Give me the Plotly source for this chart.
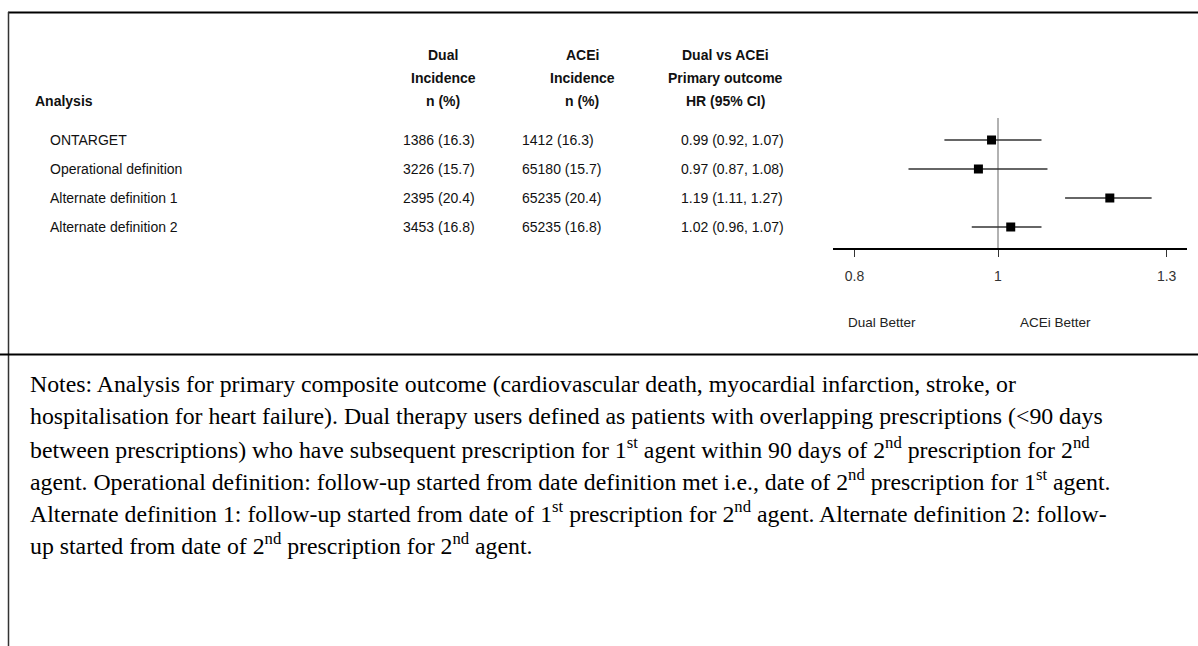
import math
import plotly.graph_objects as go

W, H = 1198, 646

analyses = ["ONTARGET", "Operational definition", "Alternate definition 1", "Alternate definition 2"]
dual_inc = ["1386 (16.3)", "3226 (15.7)", "2395 (20.4)", "3453 (16.8)"]
acei_inc = ["1412 (16.3)", "65180 (15.7)", "65235 (20.4)", "65235 (16.8)"]
hr = [0.99, 0.97, 1.19, 1.02]
lo = [0.92, 0.87, 1.11, 0.96]
hi = [1.07, 1.08, 1.27, 1.07]
hr_text = ["0.99 (0.92, 1.07)", "0.97 (0.87, 1.08)", "1.19 (1.11, 1.27)", "1.02 (0.96, 1.07)"]
tick_vals = [0.8, 1, 1.3]
tick_text = ["0.8", "1", "1.3"]
headers_dual = ["Dual", "Incidence", "n (%)"]
headers_acei = ["ACEi", "Incidence", "n (%)"]
headers_hr = ["Dual vs ACEi", "Primary outcome", "HR (95% CI)"]
notes_lines = [
    "Notes: Analysis for primary composite outcome (cardiovascular death, myocardial infarction, stroke, or",
    "hospitalisation for heart failure). Dual therapy users defined as patients with overlapping prescriptions (&lt;90 days",
    "between prescriptions) who have subsequent prescription for 1<sup>st</sup> agent within 90 days of 2<sup>nd</sup> prescription for 2<sup>nd</sup>",
    "agent. Operational definition: follow-up started from date definition met i.e., date of 2<sup>nd</sup> prescription for 1<sup>st</sup> agent.",
    "Alternate definition 1: follow-up started from date of 1<sup>st</sup> prescription for 2<sup>nd</sup> agent. Alternate definition 2: follow-",
    "up started from date of 2<sup>nd</sup> prescription for 2<sup>nd</sup> agent.",
]


def px(x):
    return x / W


def py(y):
    return 1 - y / H


SANS = "Liberation Sans, Arial, sans-serif"
SERIF = "Liberation Serif, Times New Roman, serif"

row_y0, row_dy = 140, 29
rows = list(range(len(analyses)))

# forest axis geometry (log scale)
ax_left, ax_right, x_one, px_per_dec = 833, 1187, 998, 1480
r0 = (ax_left - x_one) / px_per_dec
r1 = (ax_right - x_one) / px_per_dec
top_px, bot_px = 118, 248

fig = go.Figure()
fig.add_trace(go.Scatter(
    x=hr, y=rows, mode="markers",
    marker=dict(symbol="square", size=9, color="black"),
    error_x=dict(type="data", symmetric=False,
                 array=[h - m for h, m in zip(hi, hr)],
                 arrayminus=[m - l for m, l in zip(hr, lo)],
                 color="#333333", thickness=1.6, width=0),
    showlegend=False, hoverinfo="skip",
))

fig.update_layout(
    width=W, height=H, margin=dict(l=0, r=0, t=0, b=0),
    paper_bgcolor="white", plot_bgcolor="white",
    xaxis=dict(type="log", range=[r0, r1], domain=[px(ax_left), px(ax_right)],
               anchor="y", showgrid=False, zeroline=False,
               showline=True, linecolor="black", linewidth=1.5,
               ticks="outside", ticklen=7, tickwidth=1.2, tickcolor="#333",
               tickvals=tick_vals, ticktext=tick_text, ticklabelstandoff=7,
               tickfont=dict(family=SANS, size=14, color="#333")),
    yaxis=dict(range=[(bot_px - row_y0) / row_dy, (top_px - row_y0) / row_dy],
               domain=[py(bot_px), py(top_px)],
               showgrid=False, zeroline=False, showline=False,
               showticklabels=False, ticks=""),
)

# reference line at 1
fig.add_shape(type="line", xref="x", yref="paper", x0=1, x1=1,
              y0=py(bot_px), y1=py(top_px), line=dict(color="#999999", width=1.5),
              layer="below")

# borders
fig.add_shape(type="line", xref="paper", yref="paper", x0=px(8), x1=1, y0=py(12.5), y1=py(12.5),
              line=dict(color="black", width=2))
fig.add_shape(type="line", xref="paper", yref="paper", x0=px(8.5), x1=px(8.5), y0=py(12), y1=0,
              line=dict(color="#333", width=1.5))
fig.add_shape(type="line", xref="paper", yref="paper", x0=0, x1=1, y0=py(354.5), y1=py(354.5),
              line=dict(color="black", width=2))


def ann(text, x, y, size, bold=False, family=SANS, xanchor="left", color="#111"):
    if bold:
        text = "<b>" + text + "</b>"
    if xanchor == "left":
        x -= 2
    fig.add_annotation(text=text, x=px(x), y=py(y), xref="paper", yref="paper",
                       xanchor=xanchor, yanchor="middle", showarrow=False,
                       font=dict(family=family, size=size, color=color))


head_y = [55, 78, 101]
for i in range(3):
    ann(headers_dual[i], 443, head_y[i], 14, bold=True, xanchor="center")
    ann(headers_acei[i], 582, head_y[i], 14, bold=True, xanchor="center")
    ann(headers_hr[i], 725, head_y[i], 14, bold=True, xanchor="center")
ann("Analysis", 35, 101, 14, bold=True)

for i in rows:
    y = row_y0 + row_dy * i
    ann(analyses[i], 50, y, 14)
    ann(dual_inc[i], 403, y, 14)
    ann(acei_inc[i], 522, y, 14)
    ann(hr_text[i], 681, y, 14)

ann("Dual Better", 882, 322, 13.5, xanchor="center", color="#222")
ann("ACEi Better", 1055, 322, 13.5, xanchor="center", color="#222")

for i, line in enumerate(notes_lines):
    ann(line, 30, 384 + 32 * i, 23.8, family=SERIF, color="black")

fig.write_html("out.html", config={"displayModeBar": False},
               post_script="document.body.style.margin='0';document.body.style.overflow='hidden';")
